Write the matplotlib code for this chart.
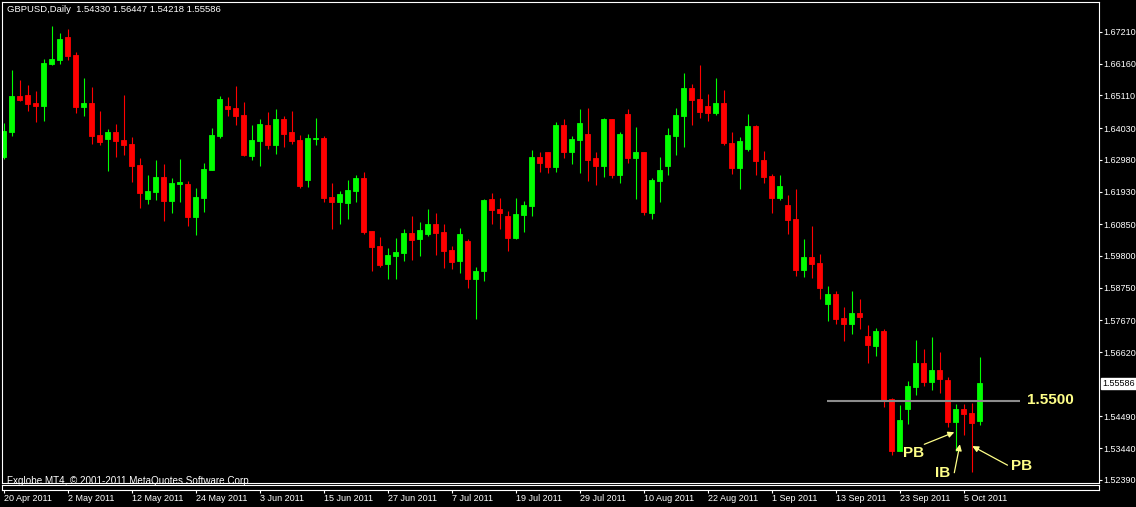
import matplotlib
matplotlib.use("Agg")
import matplotlib.pyplot as plt
import numpy as np

# GBPUSD daily bars, 20 Apr 2011 - 7 Oct 2011
opens = [1.6308, 1.6391, 1.6509, 1.6513, 1.6486, 1.6477, 1.6616, 1.6628, 1.6704, 1.6645,
         1.6474, 1.6486, 1.6380, 1.6368, 1.6390, 1.6364, 1.6350, 1.6281, 1.6170, 1.6193,
         1.6241, 1.6163, 1.6219, 1.6218, 1.6110, 1.6173, 1.6265, 1.6378, 1.6476, 1.6470,
         1.6446, 1.6312, 1.6361, 1.6413, 1.6348, 1.6433, 1.6390, 1.6364, 1.6232, 1.6368,
         1.6370, 1.6175, 1.6160, 1.6156, 1.6196, 1.6238, 1.6063, 1.6013, 1.5955, 1.5981,
         1.5991, 1.6056, 1.6037, 1.6054, 1.6086, 1.6059, 1.6000, 1.5964, 1.6030, 1.5905,
         1.5931, 1.6169, 1.6135, 1.6112, 1.6041, 1.6117, 1.6146, 1.6307, 1.6324, 1.6275,
         1.6413, 1.6325, 1.6365, 1.6384, 1.6304, 1.6279, 1.6433, 1.6249, 1.6450, 1.6305,
         1.6324, 1.6123, 1.6229, 1.6279, 1.6378, 1.6444, 1.6536, 1.6499, 1.6476, 1.6454,
         1.6486, 1.6354, 1.6272, 1.6335, 1.6410, 1.6298, 1.6245, 1.6173, 1.6149, 1.6102,
         1.5935, 1.5977, 1.5957, 1.5822, 1.5854, 1.5775, 1.5756, 1.5792, 1.5715, 1.5682,
         1.5732, 1.5507, 1.5336, 1.5475, 1.5548, 1.5626, 1.5564, 1.5603, 1.5570, 1.5432,
         1.5474, 1.5461, 1.54330]
highs = [1.6419, 1.6595, 1.6562, 1.6546, 1.6526, 1.6631, 1.6741, 1.6718, 1.6731, 1.6656,
         1.6569, 1.6539, 1.6461, 1.6400, 1.6417, 1.6513, 1.6374, 1.6304, 1.6248, 1.6298,
         1.6284, 1.6238, 1.6301, 1.6228, 1.6205, 1.6288, 1.6403, 1.6509, 1.6506, 1.6542,
         1.6489, 1.6413, 1.6433, 1.6456, 1.6466, 1.6443, 1.6460, 1.6380, 1.6384, 1.6436,
         1.6377, 1.6222, 1.6195, 1.6231, 1.6248, 1.6258, 1.6064, 1.6043, 1.6006, 1.6040,
         1.6069, 1.6112, 1.6093, 1.6135, 1.6122, 1.6086, 1.6013, 1.6073, 1.6036, 1.5945,
         1.6169, 1.6188, 1.6172, 1.6129, 1.6172, 1.6162, 1.6331, 1.6324, 1.6325, 1.6423,
         1.6433, 1.6377, 1.6466, 1.6470, 1.6324, 1.6436, 1.6434, 1.6390, 1.6466, 1.6407,
         1.6325, 1.6239, 1.6307, 1.6403, 1.6470, 1.6585, 1.6549, 1.6612, 1.6516, 1.6569,
         1.6529, 1.6390, 1.6374, 1.6450, 1.6413, 1.6327, 1.6251, 1.6248, 1.6182, 1.6202,
         1.6036, 1.6079, 1.5987, 1.5881, 1.5864, 1.5811, 1.5864, 1.5838, 1.5752, 1.5742,
         1.5739, 1.5511, 1.5487, 1.5567, 1.5702, 1.5672, 1.5712, 1.5662, 1.5581, 1.5491,
         1.5491, 1.5495, 1.56447]
lows = [1.6302, 1.6378, 1.6494, 1.6461, 1.6424, 1.6428, 1.6612, 1.6616, 1.6628, 1.6454,
        1.6444, 1.6352, 1.6348, 1.6262, 1.6308, 1.6315, 1.6226, 1.6140, 1.6153, 1.6165,
        1.6097, 1.6123, 1.6160, 1.6080, 1.6051, 1.6127, 1.6264, 1.6371, 1.6444, 1.6414,
        1.6312, 1.6299, 1.6279, 1.6335, 1.6318, 1.6342, 1.6352, 1.6206, 1.6209, 1.6348,
        1.6160, 1.6070, 1.6087, 1.6103, 1.6160, 1.6054, 1.5931, 1.5945, 1.5905, 1.5905,
        1.5964, 1.5968, 1.5981, 1.6047, 1.5984, 1.5941, 1.5938, 1.5925, 1.5875, 1.5773,
        1.5898, 1.6087, 1.6070, 1.5998, 1.6037, 1.6060, 1.6113, 1.6259, 1.6256, 1.6259,
        1.6305, 1.6285, 1.6256, 1.6229, 1.6216, 1.6242, 1.6239, 1.6223, 1.6289, 1.6170,
        1.6117, 1.6103, 1.6160, 1.6249, 1.6315, 1.6342, 1.6414, 1.6437, 1.6428, 1.6447,
        1.6348, 1.6252, 1.6203, 1.6328, 1.6249, 1.6223, 1.6123, 1.6166, 1.6054, 1.5915,
        1.5912, 1.5908, 1.5839, 1.5766, 1.5756, 1.5700, 1.5723, 1.5740, 1.5627, 1.5649,
        1.5481, 1.5323, 1.5336, 1.5425, 1.5521, 1.5551, 1.5538, 1.5528, 1.5415, 1.5336,
        1.5389, 1.5267, 1.54218]
closes = [1.6394, 1.6509, 1.6496, 1.6484, 1.6477, 1.6618, 1.6632, 1.6698, 1.6642, 1.6474,
          1.6486, 1.6378, 1.6358, 1.6390, 1.6361, 1.6348, 1.6279, 1.6189, 1.6195, 1.6241,
          1.6163, 1.6222, 1.6226, 1.6110, 1.6175, 1.6268, 1.6380, 1.6499, 1.6466, 1.6444,
          1.6315, 1.6364, 1.6417, 1.6348, 1.6433, 1.6385, 1.6361, 1.6213, 1.6370, 1.6371,
          1.6173, 1.6160, 1.6185, 1.6198, 1.6238, 1.6060, 1.6011, 1.5951, 1.5983, 1.5993,
          1.6056, 1.6034, 1.6066, 1.6086, 1.6057, 1.5998, 1.5961, 1.6053, 1.5905, 1.5930,
          1.6165, 1.6133, 1.6123, 1.6041, 1.6119, 1.6149, 1.6307, 1.6288, 1.6275, 1.6413,
          1.6325, 1.6367, 1.6420, 1.6299, 1.6279, 1.6433, 1.6249, 1.6384, 1.6305, 1.6324,
          1.6127, 1.6231, 1.6265, 1.6380, 1.6446, 1.6536, 1.6497, 1.6457, 1.6454, 1.6486,
          1.6355, 1.6272, 1.6360, 1.6410, 1.6295, 1.6242, 1.6173, 1.6212, 1.6100, 1.5935,
          1.5977, 1.5955, 1.5875, 1.5854, 1.5773, 1.5756, 1.5792, 1.5779, 1.5686, 1.5732,
          1.5500, 1.5336, 1.5438, 1.5550, 1.5626, 1.5564, 1.5603, 1.5574, 1.5432, 1.5474,
          1.5458, 1.5429, 1.55586]

date_labels = ['20 Apr 2011', '2 May 2011', '12 May 2011', '24 May 2011', '3 Jun 2011',
               '15 Jun 2011', '27 Jun 2011', '7 Jul 2011', '19 Jul 2011', '29 Jul 2011',
               '10 Aug 2011', '22 Aug 2011', '1 Sep 2011', '13 Sep 2011', '23 Sep 2011',
               '5 Oct 2011']
price_ticks = [1.67210, 1.66160, 1.65110, 1.64030, 1.62980, 1.61930, 1.60850, 1.59800,
               1.58750, 1.57670, 1.56620, 1.54490, 1.53440, 1.52390]
last_price = 1.55586
level = 1.5500

BULL = '#00ff00'
BEAR = '#ff0000'
NOTE = '#ffff88'
FONT = 'Liberation Sans'

W, H = 1136, 507
fig = plt.figure(figsize=(W / 100, H / 100), dpi=100, facecolor='black')

# main chart window (pixel box -> figure fraction)
left, right, top, bottom = 1.7, 1098.7, 1.7, 483.0
xlim = (-0.225, 136.9)
ax = fig.add_axes([left / W, 1 - bottom / H, (right - left) / W, (bottom - top) / H])
ax.set_facecolor('black')
ax.set_xlim(*xlim)
ax.set_ylim(1.52290, 1.68212)

o = np.array(opens)
h = np.array(highs)
l = np.array(lows)
c = np.array(closes)
idx = np.arange(len(o))
colors = np.where(c >= o, BULL, BEAR)

ax.vlines(idx, l, h, colors=colors, linewidth=0.8)
ax.bar(idx, np.abs(c - o), bottom=np.minimum(o, c), width=0.56,
       color=colors, edgecolor=colors, linewidth=0.6)

for s in ax.spines.values():
    s.set_color('white')
    s.set_linewidth(0.8)

ax.set_xticks([])
ax.yaxis.tick_right()
ax.set_yticks(price_ticks)
ax.set_yticklabels(['%.5f' % p for p in price_ticks])
ax.tick_params(axis='y', colors='white', labelcolor='white', length=2, width=0.8,
               pad=1.5, labelsize=6.5)
for t in ax.get_yticklabels():
    t.set_fontfamily(FONT)

# current price box
ax.text(1.0035, last_price, '%.5f' % last_price, transform=ax.get_yaxis_transform(),
        va='center', ha='left', fontsize=6.5, fontfamily=FONT, color='black',
        bbox=dict(boxstyle='square,pad=0.12', facecolor='white', edgecolor='white'))

# 1.5500 level with pin bar / inside bar notes
ax.hlines(level, 102.9, 127.1, colors='#8c8c8c', linewidth=1.5)
ax.text(127.9, level + 0.0002, '1.5500', color=NOTE, fontsize=11, fontweight='bold',
        fontfamily=FONT, va='center', ha='left')

notes = [('PB', 113.8, 1.5327), ('IB', 117.4, 1.5261), ('PB', 127.2, 1.5286)]
for txt, x, y in notes:
    ax.text(x, y, txt, color=NOTE, fontsize=11, fontweight='bold', fontfamily=FONT,
            va='center', ha='center')

arrows = [((115.1, 1.5357), (118.85, 1.5397)),
          ((118.85, 1.5263), (119.55, 1.5357)),
          ((125.5, 1.5288), (121.1, 1.5351))]
for start, tip in arrows:
    ax.annotate('', xy=tip, xytext=start,
                arrowprops=dict(arrowstyle='-|>', color=NOTE, lw=0.9,
                                mutation_scale=9, shrinkA=0, shrinkB=0))

# empty sub-window strip carrying the date axis
sub_top, sub_bottom = 485.0, 489.5
ax2 = fig.add_axes([left / W, 1 - sub_bottom / H, (right - left) / W,
                    (sub_bottom - sub_top) / H])
ax2.set_facecolor('black')
for s in ax2.spines.values():
    s.set_color('white')
    s.set_linewidth(0.8)
ax2.set_yticks([])
ax2.set_xlim(*xlim)
ax2.set_xticks(np.arange(0, 8 * len(date_labels), 8))
ax2.set_xticklabels(date_labels)
ax2.tick_params(axis='x', colors='white', labelcolor='white', length=2.5, width=0.8,
                pad=1, labelsize=6.5)
for t in ax2.get_xticklabels():
    t.set_ha('left')
    t.set_fontfamily(FONT)

fig.text(7 / W, 1 - 10 / H, 'GBPUSD,Daily  1.54330 1.56447 1.54218 1.55586',
         color='white', fontsize=6.8, fontfamily=FONT, va='center', ha='left')
fig.text(7 / W, 1 - 481.5 / H, 'Fxglobe MT4, \u00a9 2001-2011 MetaQuotes Software Corp.',
         color='white', fontsize=7.1, fontfamily=FONT, va='center', ha='left')

fig.savefig('out.png', dpi=100, facecolor='black')
